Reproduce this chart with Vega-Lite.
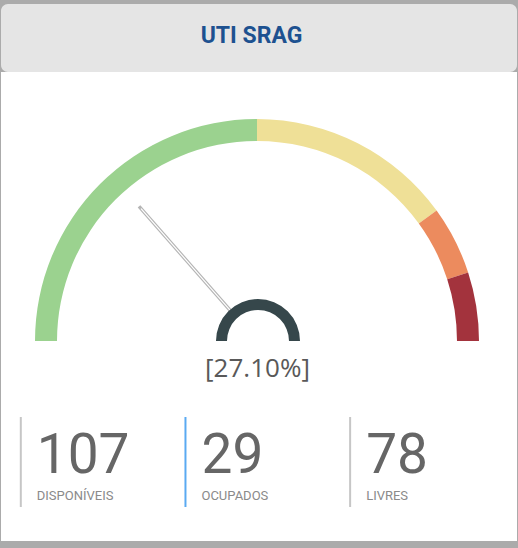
{
  "$schema": "https://vega.github.io/schema/vega-lite/v6.json",
  "background": "#ababab",
  "padding": {"left": 1, "top": 4, "right": 1, "bottom": 7},
  "spacing": 0,
  "config": {"view": {"stroke": null}, "concat": {"spacing": 0}},
  "datasets": {
    "titulo": [{"texto": "UTI SRAG"}],
    "faixas": [
      {"faixa": "Verde", "inicio": 0, "fim": 50},
      {"faixa": "Amarelo", "inicio": 50, "fim": 80},
      {"faixa": "Laranja", "inicio": 80, "fim": 90},
      {"faixa": "Vermelho", "inicio": 90, "fim": 100}
    ],
    "ocupacao": [{"percentual": 27.1, "rotulo": "[27.10%]"}],
    "leitos": [
      {"categoria": "DISPONÍVEIS", "total": 107},
      {"categoria": "OCUPADOS", "total": 29},
      {"categoria": "LIVRES", "total": 78}
    ]
  },
  "vconcat": [
    {
      "width": 516,
      "height": 68,
      "view": {"fill": "#e5e5e5", "cornerRadius": 7, "stroke": null},
      "data": {"name": "titulo"},
      "mark": {"type": "text", "font": "Roboto", "fontWeight": "bold", "fontSize": 23, "color": "#1d5190", "baseline": "alphabetic", "dx": -7.5, "dy": 5},
      "encoding": {"text": {"field": "texto"}}
    },
    {
      "width": 516,
      "height": 469,
      "view": {"fill": "#ffffff", "stroke": null},
      "layer": [
        {
          "data": {"name": "faixas"},
          "mark": {"type": "arc", "radius": 222, "radius2": 200, "xOffset": -2},
          "encoding": {
            "y": {"datum": 269, "type": "quantitative", "scale": {"domain": [0, 469], "reverse": true, "nice": false, "zero": false}, "axis": null},
            "theta": {"field": "inicio", "type": "quantitative", "stack": null, "scale": {"domain": [0, 100], "range": [-1.5707963, 1.5707963]}},
            "theta2": {"field": "fim"},
            "color": {"field": "faixa", "type": "nominal", "scale": {"domain": ["Verde", "Amarelo", "Laranja", "Vermelho"], "range": ["#9bd28f", "#efe097", "#ec8b5e", "#a3333d"]}, "legend": null}
          }
        },
        {
          "data": {"name": "ocupacao"},
          "mark": {"type": "arc", "radius": 179, "radius2": 40, "xOffset": -2, "fill": null, "stroke": "#b5b5b5", "strokeWidth": 3.5},
          "encoding": {
            "y": {"datum": 269, "type": "quantitative"},
            "theta": {"field": "percentual", "type": "quantitative", "stack": null},
            "theta2": {"field": "percentual"}
          }
        },
        {
          "data": {"name": "ocupacao"},
          "mark": {"type": "arc", "radius": 176, "radius2": 40, "xOffset": -2, "fill": null, "stroke": "#ffffff", "strokeWidth": 1.2},
          "encoding": {
            "y": {"datum": 269, "type": "quantitative"},
            "theta": {"field": "percentual", "type": "quantitative", "stack": null},
            "theta2": {"field": "percentual"}
          }
        },
        {
          "data": {"name": "ocupacao"},
          "mark": {"type": "arc", "radius": 42, "radius2": 31, "xOffset": -1, "color": "#36474b"},
          "encoding": {
            "y": {"datum": 269, "type": "quantitative"},
            "theta": {"datum": 0, "type": "quantitative", "stack": null},
            "theta2": {"datum": 100}
          }
        },
        {
          "data": {"name": "ocupacao"},
          "mark": {"type": "text", "font": "Open Sans", "fontSize": 26, "color": "#595959", "baseline": "alphabetic", "dx": -1.5},
          "encoding": {
            "y": {"datum": 305, "type": "quantitative"},
            "text": {"field": "rotulo"}
          }
        },
        {
          "data": {"name": "leitos"},
          "mark": {"type": "rule", "strokeWidth": 2},
          "encoding": {
            "x": {"field": "categoria", "type": "nominal", "sort": null, "bandPosition": 0, "scale": {"type": "band", "paddingInner": 0, "paddingOuter": 0.0668, "align": 0.9}, "axis": null},
            "y": {"datum": 345, "type": "quantitative"},
            "y2": {"datum": 435},
            "color": {"condition": {"test": "datum.categoria === 'OCUPADOS'", "value": "#5aaaf2"}, "value": "#c6c6c6"}
          }
        },
        {
          "data": {"name": "leitos"},
          "mark": {"type": "text", "font": "Roboto", "fontSize": 55, "color": "#666666", "align": "left", "baseline": "alphabetic", "dx": 16},
          "encoding": {
            "x": {"field": "categoria", "type": "nominal", "sort": null, "bandPosition": 0},
            "y": {"datum": 401, "type": "quantitative"},
            "text": {"field": "total", "type": "quantitative"}
          }
        },
        {
          "data": {"name": "leitos"},
          "mark": {"type": "text", "font": "Roboto", "fontSize": 13, "color": "#8a8a8a", "align": "left", "baseline": "alphabetic", "dx": 16},
          "encoding": {
            "x": {"field": "categoria", "type": "nominal", "sort": null, "bandPosition": 0},
            "y": {"datum": 428, "type": "quantitative"},
            "text": {"field": "categoria"}
          }
        }
      ]
    }
  ]
}
